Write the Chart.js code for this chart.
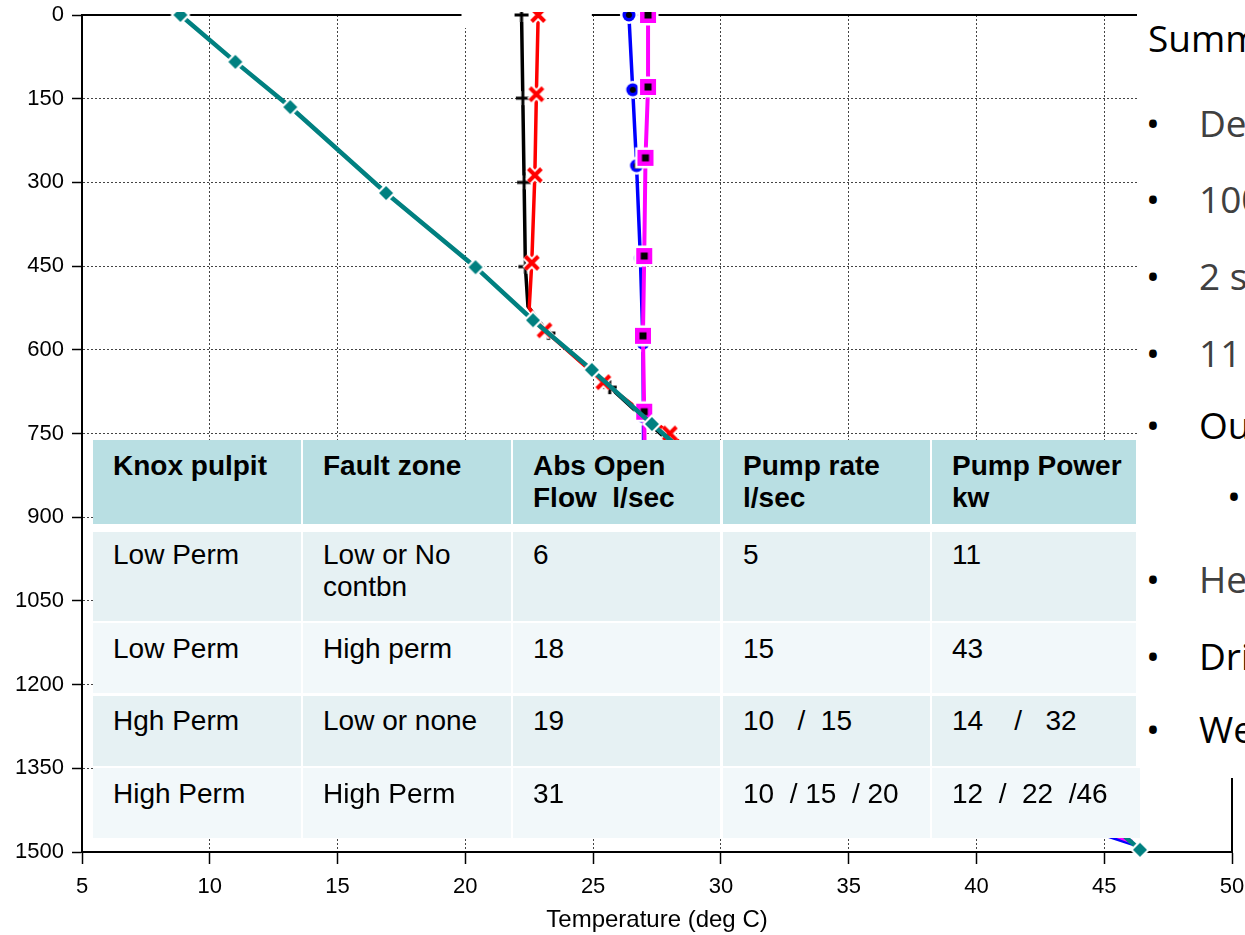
<!DOCTYPE html>
<html>
<head>
<meta charset="utf-8">
<script src="https://cdn.jsdelivr.net/npm/chart.js@4/dist/chart.umd.min.js"></script>
<style>
html, body { margin: 0; padding: 0; background: #fff; }
#wrap { position: relative; width: 1245px; height: 935px; overflow: hidden; }
#chartDepth { position: absolute; left: 0; top: 0; }
#tableBack { position: absolute; left: 93px; top: 440px; width: 1047px; height: 398px; background: #fff; }
.cell { position: absolute; box-sizing: border-box; padding-left: 20px; white-space: pre;
        font-family: "Liberation Sans", Arial, sans-serif; font-size: 28px; line-height: 32px; color: #000; }
.head { font-weight: bold; }
#notes { position: absolute; left: 1137px; top: 0; width: 108px; height: 778px; background: #fff; overflow: hidden; }
.note { position: absolute; white-space: pre; font-family: "Open Sans", sans-serif; font-size: 37px; line-height: 37px; }
</style>
</head>
<body>
<div id="wrap">
  <canvas id="chartDepth" width="1245" height="935"></canvas>
  <div id="tableBack"></div>
  <div id="notes"></div>
</div>
<script>
// axis ticks
const tempTicks = [5, 10, 15, 20, 25, 30, 35, 40, 45, 50];
const depthTicks = [0, 150, 300, 450, 600, 750, 900, 1050, 1200, 1350, 1500];

// temperature (deg C) vs depth (m)
const tealTemp = [8.85, 11.0, 13.15, 16.9, 20.4, 22.65, 24.95, 27.3, 46.4];
const tealDepth = [0, 84, 165, 319, 452, 547, 636, 733, 1496];

const blackTemp = [22.2, 22.25, 22.3, 22.35, 22.45, 23.25, 25.65, 30.0];
const blackDepth = [0, 149, 300, 451, 522, 570, 667, 850];

const redTemp = [22.85, 22.78, 22.72, 22.6, 22.5, 23.1, 25.4, 28.0, 30.5];
const redDepth = [0, 142, 287, 444, 525, 565, 658, 750, 850];

const blueTemp = [26.4, 26.55, 26.7, 26.85, 26.95, 26.97, 27.0, 46.1];
const blueDepth = [0, 134, 270, 436, 588, 720, 1200, 1486];

const pinkTemp = [27.15, 27.15, 27.05, 27.0, 26.95, 27.0, 27.1, 46.1];
const pinkDepth = [0, 129, 256, 432, 575, 711, 1150, 1482];

// table text
const tableHead = ['Knox pulpit', 'Fault zone', 'Abs Open\nFlow  l/sec', 'Pump rate\nl/sec', 'Pump Power\nkw'];
const tableRows = [
  ['Low Perm', 'Low or No\ncontbn', '6', '5', '11'],
  ['Low Perm', 'High perm', '18', '15', '43'],
  ['Hgh Perm', 'Low or none', '19', '10   /  15', '14    /   32'],
  ['High Perm', 'High Perm', '31', '10  / 15  / 20', '12  /  22  /46'],
];

// slide text at the right edge (clipped)
const noteText = ['Summ', 'De', '100', '2 s', '11', 'Ou', '', 'He', 'Dri', 'We'];

// ---- table ----
const colLeft = [93, 303, 513, 723, 932];
const colRight = [301, 511, 720, 930, 1136];
const rowTop = [440, 532, 623, 696, 768];
const rowBottom = [524, 621, 693, 766, 838];
const rowPad = [10, 7, 10, 9, 10];
const rowBg = ['#b9dfe3', '#e6f1f3', '#f2f8fa', '#e6f1f3', '#f2f8fa'];

const wrap = document.getElementById('wrap');
[tableHead].concat(tableRows).forEach((row, r) => {
  row.forEach((txt, c) => {
    const d = document.createElement('div');
    d.className = 'cell' + (r === 0 ? ' head' : '');
    const right = (r === 4 && c === 4) ? 1140 : colRight[c];
    d.style.left = colLeft[c] + 'px';
    d.style.top = rowTop[r] + 'px';
    d.style.width = (right - colLeft[c]) + 'px';
    d.style.height = (rowBottom[r] - rowTop[r]) + 'px';
    d.style.paddingTop = rowPad[r] + 'px';
    d.style.background = rowBg[r];
    d.textContent = txt;
    wrap.appendChild(d);
  });
});

// ---- notes ----
const noteBase = [52, 137, 213, 290, 367, 439, 510, 593, 670, 743];
const noteColor = ['#000', '#404040', '#404040', '#404040', '#404040', '#000', '#000', '#404040', '#000', '#000'];
const notes = document.getElementById('notes');
noteText.forEach((txt, i) => {
  const top = noteBase[i] - 33;
  if (i > 0) {
    const b = document.createElement('div');
    b.className = 'note';
    b.textContent = '\u2022';
    b.style.left = (i === 6 ? 90 : 9) + 'px';
    b.style.top = top + 'px';
    b.style.color = '#000';
    notes.appendChild(b);
  }
  if (txt) {
    const t = document.createElement('div');
    t.className = 'note';
    t.textContent = txt;
    t.style.left = (i === 0 ? 11 : 62) + 'px';
    t.style.top = top + 'px';
    t.style.color = noteColor[i];
    notes.appendChild(t);
  }
});

// ---- markers ----
function marker(size, paint) {
  const c = document.createElement('canvas');
  c.width = c.height = size;
  const g = c.getContext('2d');
  paint(g, size / 2);
  return c;
}
const diamond = marker(22, (g, m) => {
  g.fillStyle = '#fff';
  g.beginPath(); g.moveTo(m, m - 10); g.lineTo(m + 10, m); g.lineTo(m, m + 10); g.lineTo(m - 10, m); g.fill();
  g.fillStyle = '#008080';
  g.beginPath(); g.moveTo(m, m - 7); g.lineTo(m + 7, m); g.lineTo(m, m + 7); g.lineTo(m - 7, m); g.fill();
});
const squareMark = marker(24, (g, m) => {
  g.fillStyle = '#fff'; g.fillRect(m - 10.5, m - 10.5, 21, 21);
  g.fillStyle = '#ff00ff'; g.fillRect(m - 8, m - 8, 16, 16);
  g.fillStyle = '#000'; g.fillRect(m - 3.5, m - 3.5, 7, 7);
});
const circleMark = marker(22, (g, m) => {
  g.fillStyle = '#fff'; g.beginPath(); g.arc(m, m, 9, 0, Math.PI * 2); g.fill();
  g.fillStyle = '#0000ff'; g.beginPath(); g.arc(m, m, 6.5, 0, Math.PI * 2); g.fill();
  g.fillStyle = '#000'; g.beginPath(); g.arc(m, m, 3, 0, Math.PI * 2); g.fill();
});
const crossMark = marker(24, (g, m) => {
  const s = 6.5;
  [['#fff', 8], ['#ff0000', 4]].forEach(([col, w]) => {
    g.strokeStyle = col; g.lineWidth = w;
    g.beginPath(); g.moveTo(m - s, m - s); g.lineTo(m + s, m + s);
    g.moveTo(m + s, m - s); g.lineTo(m - s, m + s); g.stroke();
  });
});
const plusMark = marker(22, (g, m) => {
  const s = 7;
  [['#fff', 7], ['#000', 3]].forEach(([col, w]) => {
    g.strokeStyle = col; g.lineWidth = w;
    g.beginPath(); g.moveTo(m - s, m); g.lineTo(m + s, m);
    g.moveTo(m, m - s); g.lineTo(m, m + s); g.stroke();
  });
});

const toPoints = (t, d) => t.map((v, i) => ({ x: v, y: d[i] }));
const clipBox = { left: 10, top: 3, right: 10, bottom: 6 };

// top and right edges of the plot frame, with the white break in the top edge
const framePlugin = {
  id: 'frame',
  beforeDatasetsDraw(chart) {
    const { ctx, chartArea: a, scales: { x } } = chart;
    ctx.save();
    ctx.strokeStyle = '#000';
    ctx.lineWidth = 2;
    ctx.beginPath();
    ctx.moveTo(a.left, a.top);
    ctx.lineTo(a.right, a.top);
    ctx.lineTo(a.right, a.bottom);
    ctx.stroke();
    ctx.fillStyle = '#fff';
    const l = x.getPixelForValue(19.85), r = x.getPixelForValue(24.95);
    ctx.fillRect(l, 0, r - l, a.top + 13);
    ctx.restore();
  }
};

const fontFamily = "'Liberation Sans', Arial, sans-serif";

const configDepth = {
  type: 'scatter',
  data: {
    datasets: [{
      data: toPoints(tealTemp, tealDepth),
      showLine: true, borderColor: '#008080', borderWidth: 4.5,
      pointStyle: diamond, pointRadius: 7, clip: clipBox,
    }, {
      data: toPoints(pinkTemp, pinkDepth),
      showLine: true, borderColor: '#ff00ff', borderWidth: 4,
      pointStyle: squareMark, pointRadius: [8, 8, 8, 8, 8, 8, 8, 0], clip: clipBox,
    }, {
      data: toPoints(blueTemp, blueDepth),
      showLine: true, borderColor: '#0000ff', borderWidth: 3.5,
      pointStyle: circleMark, pointRadius: [7, 7, 7, 7, 7, 7, 7, 0], clip: clipBox,
    }, {
      data: toPoints(redTemp, redDepth),
      showLine: true, borderColor: '#ff0000', borderWidth: 3.5,
      pointStyle: crossMark, pointRadius: [7, 7, 7, 7, 0, 7, 7, 7, 7], clip: clipBox,
    }, {
      data: toPoints(blackTemp, blackDepth),
      showLine: true, borderColor: '#000', borderWidth: 3.5,
      pointStyle: plusMark, pointRadius: [6, 6, 6, 6, 0, 6, 6, 6], clip: clipBox,
    }]
  },
  options: {
    animation: false,
    responsive: false,
    devicePixelRatio: 1,
    layout: { padding: { top: 15, right: 13, left: 0, bottom: 0 } },
    plugins: { legend: { display: false }, tooltip: { enabled: false } },
    elements: { line: { tension: 0 } },
    scales: {
      x: {
        type: 'linear', min: 5, max: 50,
        afterBuildTicks: s => { s.ticks = tempTicks.map(v => ({ value: v })); },
        afterFit: s => { s.height = 83; s.paddingLeft = 0; s.paddingRight = 0; },
        grid: { color: '#444', lineWidth: 1, tickLength: 12, tickColor: '#000', tickWidth: 1.5, tickBorderDash: [] },
        border: { color: '#000', width: 2, dash: [2, 2] },
        ticks: { padding: 10, color: '#000', font: { family: fontFamily, size: 22 }, maxRotation: 0, autoSkip: false,
                 callback: v => String(v) },
        title: { display: true, text: 'Temperature (deg C)', color: '#000', font: { family: fontFamily, size: 24 }, padding: 0 }
      },
      y: {
        type: 'linear', reverse: true, min: 0, max: 1500,
        afterBuildTicks: s => { s.ticks = depthTicks.map(v => ({ value: v })); },
        afterFit: s => { s.width = 82; s.paddingTop = 0; s.paddingBottom = 0; },
        grid: { color: '#444', lineWidth: 1, tickLength: 10, tickColor: '#000', tickWidth: 1.5, tickBorderDash: [] },
        border: { color: '#000', width: 2, dash: [2, 2] },
        ticks: { padding: 8, color: '#000', font: { family: fontFamily, size: 22 }, autoSkip: false,
                 callback: v => String(v) }
      }
    }
  },
  plugins: [framePlugin]
};

new Chart(document.getElementById('chartDepth'), configDepth);
</script>
</body>
</html>
